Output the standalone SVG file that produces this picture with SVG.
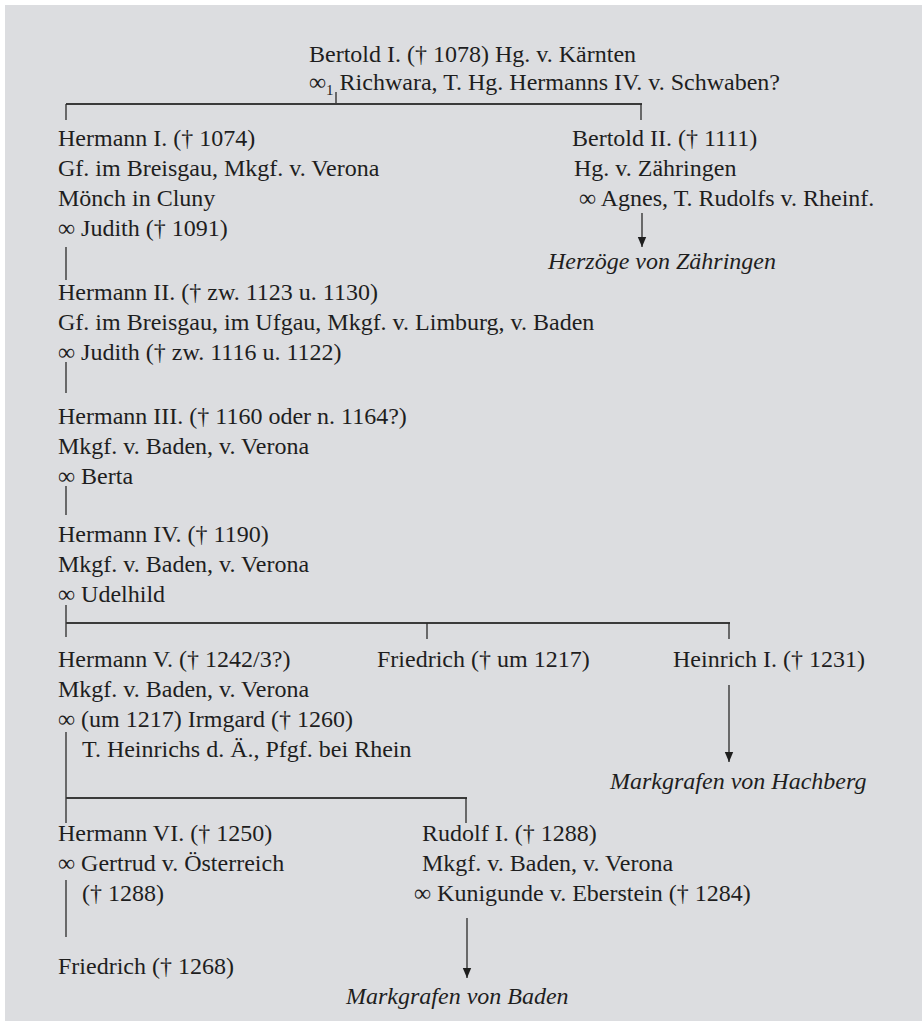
<svg xmlns="http://www.w3.org/2000/svg" width="922" height="1021" viewBox="0 0 922 1021">
<defs>
<style>
.t{font-family:"Liberation Serif","Times New Roman",serif;font-size:24px;fill:#1e1e1e}
.i{font-style:italic}
.h{stroke:#3a3a3a;stroke-width:2;fill:none}
.v{stroke:#2a2a2a;stroke-width:1.3;fill:none}
</style>
<marker id="ah" viewBox="0 0 10 10" refX="10" refY="5" markerWidth="10" markerHeight="10" markerUnits="userSpaceOnUse" orient="auto">
<path d="M0,0.8 L10,5 L0,9.2 z" fill="#1e1e1e"/>
</marker>
</defs>
<rect x="5" y="5" width="917" height="1016" fill="#dcdde0"/>

<g id="bertold1">
<text class="t" x="309" y="62">Bertold I. († 1078) Hg. v. Kärnten</text>
<text class="t" x="309" y="90">∞<tspan font-size="15" dy="5">1</tspan><tspan dy="-5"> Richwara, T. Hg. Hermanns IV. v. Schwaben?</tspan></text>
</g>
<g id="hermann1">
<text class="t" x="58" y="146">Hermann I. († 1074)</text>
<text class="t" x="58" y="176">Gf. im Breisgau, Mkgf. v. Verona</text>
<text class="t" x="58" y="206">Mönch in Cluny</text>
<text class="t" x="58" y="236">∞ Judith († 1091)</text>
</g>
<g id="bertold2">
<text class="t" x="572" y="146">Bertold II. († 1111)</text>
<text class="t" x="574" y="176">Hg. v. Zähringen</text>
<text class="t" x="579" y="206">∞ Agnes, T. Rudolfs v. Rheinf.</text>
</g>
<g id="zaehringen">
<text class="t i" x="548" y="269">Herzöge von Zähringen</text>
</g>
<g id="hermann2">
<text class="t" x="58" y="300">Hermann II. († zw. 1123 u. 1130)</text>
<text class="t" x="58" y="330">Gf. im Breisgau, im Ufgau, Mkgf. v. Limburg, v. Baden</text>
<text class="t" x="58" y="360">∞ Judith († zw. 1116 u. 1122)</text>
</g>
<g id="hermann3">
<text class="t" x="58" y="424">Hermann III. († 1160 oder n. 1164?)</text>
<text class="t" x="58" y="454">Mkgf. v. Baden, v. Verona</text>
<text class="t" x="58" y="484">∞ Berta</text>
</g>
<g id="hermann4">
<text class="t" x="58" y="542">Hermann IV. († 1190)</text>
<text class="t" x="58" y="572">Mkgf. v. Baden, v. Verona</text>
<text class="t" x="58" y="602">∞ Udelhild</text>
</g>
<g id="hermann5">
<text class="t" x="58" y="667">Hermann V. († 1242/3?)</text>
<text class="t" x="58" y="697">Mkgf. v. Baden, v. Verona</text>
<text class="t" x="58" y="727">∞ (um 1217) Irmgard († 1260)</text>
<text class="t" x="82" y="757">T. Heinrichs d. Ä., Pfgf. bei Rhein</text>
</g>
<g id="friedrich1217">
<text class="t" x="377" y="667">Friedrich († um 1217)</text>
</g>
<g id="heinrich1">
<text class="t" x="673" y="667">Heinrich I. († 1231)</text>
</g>
<g id="hachberg">
<text class="t i" x="610" y="789">Markgrafen von Hachberg</text>
</g>
<g id="hermann6">
<text class="t" x="58" y="841">Hermann VI. († 1250)</text>
<text class="t" x="58" y="871">∞ Gertrud v. Österreich</text>
<text class="t" x="82" y="901">(† 1288)</text>
</g>
<g id="rudolf1">
<text class="t" x="422" y="841">Rudolf I. († 1288)</text>
<text class="t" x="422" y="871">Mkgf. v. Baden, v. Verona</text>
<text class="t" x="414" y="901">∞ Kunigunde v. Eberstein († 1284)</text>
</g>
<g id="friedrich1268">
<text class="t" x="58" y="974">Friedrich († 1268)</text>
</g>
<g id="baden">
<text class="t i" x="346" y="1004">Markgrafen von Baden</text>
</g>

<g id="connectors">
<line class="v" x1="336" y1="92" x2="336" y2="104"/>
<line class="h" x1="66" y1="104" x2="642" y2="104"/>
<line class="v" x1="66" y1="104" x2="66" y2="120"/>
<line class="v" x1="641" y1="104" x2="641" y2="120"/>
<line class="v" x1="642" y1="213" x2="642" y2="247" marker-end="url(#ah)"/>
<line class="v" x1="66" y1="247" x2="66" y2="280"/>
<line class="v" x1="66" y1="362" x2="66" y2="393"/>
<line class="v" x1="66" y1="486" x2="66" y2="515"/>
<line class="v" x1="66" y1="605" x2="66" y2="637"/>
<line class="h" x1="66" y1="623" x2="730" y2="623"/>
<line class="v" x1="427" y1="623" x2="427" y2="639"/>
<line class="v" x1="729" y1="623" x2="729" y2="639"/>
<line class="v" x1="729" y1="685" x2="729" y2="762" marker-end="url(#ah)"/>
<line class="v" x1="66" y1="732" x2="66" y2="823"/>
<line class="h" x1="66" y1="798" x2="467" y2="798"/>
<line class="v" x1="466" y1="798" x2="466" y2="823"/>
<line class="v" x1="66" y1="880" x2="66" y2="937"/>
<line class="v" x1="467" y1="918" x2="467" y2="978" marker-end="url(#ah)"/>
</g>
</svg>
